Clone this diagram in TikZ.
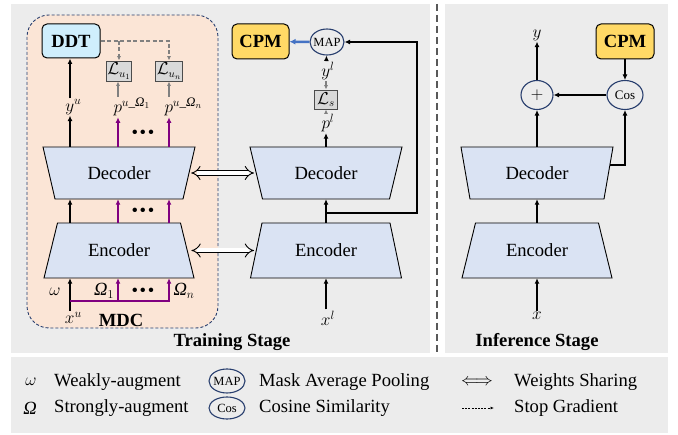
\documentclass[tikz,border=0pt]{standalone}
\usepackage{amsmath}
\usepackage{fontspec}
\setmainfont{Liberation Serif}
\usetikzlibrary{arrows.meta,shapes.geometric,calc}
\definecolor{bg}{RGB}{236,236,236}
\definecolor{peach}{RGB}{251,229,214}
\definecolor{navy}{RGB}{40,62,110}
\definecolor{trapfill}{RGB}{218,227,243}
\definecolor{ddtfill}{RGB}{207,238,252}
\definecolor{cpmfill}{RGB}{255,217,102}
\definecolor{lboxfill}{RGB}{217,217,217}
\definecolor{mypurple}{RGB}{128,0,128}
\definecolor{mygray}{RGB}{128,128,128}
\definecolor{myblue}{RGB}{68,114,196}
\definecolor{sepgray}{RGB}{89,89,89}
\newcommand\myfs{\fontsize{18.6}{21}\selectfont}
\newcommand\supr[2]{#1^{\rlap{$\scriptstyle #2$}}}
\newcommand\threedots{\textbullet\kern1.6pt\textbullet\kern1.6pt\textbullet}
\newcommand\mytrap[7]{%
  \draw[trapbox] ({#2-(#4)/2},{#3-(#6)/2}) -- ({#2+(#4)/2},{#3-(#6)/2}) -- ({#2+(#5)/2},{#3+(#6)/2}) -- ({#2-(#5)/2},{#3+(#6)/2}) -- cycle;
  \node[lbl, inner sep=0pt, minimum width={((#4)+(#5))/2}, minimum height=#6] (#1) at (#2,#3) {#7};
}
\tikzset{
  lbl/.style={inner sep=1pt, font=\myfs},
  legtxt/.style={lbl, anchor=west},
  trapbox/.style={draw=black, fill=trapfill, line width=0.9pt, line join=miter},
  arr/.style={draw=black, line width=1.4pt, -{Latex[length=5.5pt,width=5pt]}},
  parr/.style={arr, draw=mypurple, line width=1.7pt},
  garr/.style={draw=mygray, line width=1.3pt, -{Latex[length=4.5pt,width=4pt]}},
  gdash/.style={garr, dash pattern=on 4pt off 2.5pt},
  barr/.style={draw=myblue, line width=2.5pt, -{Latex[length=6pt,width=6pt]}},
  wsh/.style={draw=black, double=white, double distance=4pt, line width=0.9pt, {Implies}-{Implies}},
  circ/.style={ellipse, draw=navy, line width=1.1pt, fill=bg, inner xsep=-2pt, inner ysep=0pt, font=\fontsize{12.5}{14}\selectfont},
  cpmbox/.style={rectangle, rounded corners=5pt, draw=black, line width=1pt, fill=cpmfill, minimum width=57pt, minimum height=35pt, font=\myfs\bfseries},
  ddtbox/.style={cpmbox, fill=ddtfill, minimum width=58pt, minimum height=34pt},
  lbox/.style={rectangle, draw=black!70, line width=0.9pt, fill=lboxfill, minimum width=25pt, minimum height=20pt, inner sep=1pt, font=\fontsize{16}{18}\selectfont},
  dots/.style={inner sep=0pt, font=\myfs},
  mdc/.style={draw=navy, dash pattern=on 3pt off 2pt, line width=0.9pt, fill=peach, rounded corners=22pt},
  title/.style={lbl, font=\myfs\bfseries}
}
\begin{document}
\begin{tikzpicture}[x=1pt,y=-1pt]
\useasboundingbox (0,0) rectangle (678,435);
\fill[white] (0,0) rectangle (678,435);
\fill[bg] (11,4) rectangle (430,353);
\fill[bg] (445,4) rectangle (668,353);
\fill[bg] (11,357) rectangle (668,433);
\draw[sepgray, line width=2.6pt, dash pattern=on 7pt off 4pt] (437,4) -- (437,353);
\draw[mdc] (27,15) rectangle (218,328);

% ---------- left (MDC) ----------
\mytrap{encL}{119}{250.5}{123}{150}{55}{Encoder}
\mytrap{decL}{119}{173}{152}{128}{52}{Decoder}
\node[lbl] (xu) at (70,318) {$\supr{x}{u}$};
\draw[arr] (xu) -- (xu |- encL.south);
\node[lbl] (om) at (55,292) {$\omega$};
\coordinate (pj) at (70,301);
\coordinate (a1) at ($(encL.south)+(-1,0)$);
\coordinate (an) at ($(encL.south)+(50,0)$);
\draw[parr] (pj) -| (an);
\draw[parr] (a1 |- pj) -- (a1);
\node[lbl] (O1) at (104,291) {\textit{Ω}$_1$};
\node[dots] (d0) at (143,292) {\threedots};
\node[lbl] (On) at (184,291) {\textit{Ω}$_n$};
\node[title] (mdclbl) at (121,320) {MDC};

\draw[arr] ($(encL.north)+(-49,0)$) -- ($(decL.south)+(-49,0)$);
\draw[parr] ($(encL.north)+(-1,0)$) -- ($(decL.south)+(-1,0)$);
\draw[parr] ($(encL.north)+(50,0)$) -- ($(decL.south)+(50,0)$);
\node[dots] (d1) at (143,212) {\threedots};

\node[lbl] (yu) at (70,107) {$\supr{y}{u}$};
\node[lbl] (pu1) at (118,107) {$\supr{p}{u\_\text{\textit{Ω}}_1}$};
\node[lbl] (pun) at (169,107) {$\supr{p}{u\_\text{\textit{Ω}}_n}$};
\draw[arr] (decL.north -| yu) -- (yu);
\draw[parr] (decL.north -| pu1) -- (pu1);
\draw[parr] (decL.north -| pun) -- (pun);
\node[dots] (d2) at (143,134) {\threedots};
\node[ddtbox] (ddt) at (71,41) {DDT};
\draw[arr] (yu) -- (yu |- ddt.south);
\node[lbox] (lu1) at (119,71) {$\mathcal{L}_{u_1}$};
\node[lbox] (lun) at (169,71) {$\mathcal{L}_{u_n}$};
\draw[garr] (pu1) -- (pu1 |- lu1.south);
\draw[garr] (pun) -- (pun |- lun.south);
\draw[gdash] (ddt.east) -| (lun.north);
\draw[gdash] (lu1.north |- ddt.east) -- (lu1.north);

% ---------- middle ----------
\mytrap{encM}{326}{250.5}{128}{151}{55}{Encoder}
\mytrap{decM}{326}{173}{152}{127}{52}{Decoder}
\node[lbl] (xl) at (326,318) {$\supr{x}{l}$};
\draw[arr] (xl) -- (xl |- encM.south);
\draw[arr] (encM.north) -- (decM.south);
\coordinate (br) at (326,213);
\coordinate (rc) at (417,213);
\node[circ, minimum width=34pt, minimum height=26pt] (map) at (327,42) {MAP};
\draw[arr] (br) -- (rc) |- (map.east);
\node[lbox, minimum width=23pt, minimum height=19pt] (ls) at (326,99.5) {$\mathcal{L}_s$};
\node[lbl] (pl) at (326,123) {$\supr{p}{l}$};
\node[lbl] (yl) at (326,71) {$\supr{y}{l}$};
\draw[arr] (decM.north) -- (pl);
\draw[garr] (pl) -- (ls);
\draw[garr] (yl) -- (ls);
\draw[arr] (yl) -- (map);
\node[cpmbox] (cpmM) at (260.5,41.5) {CPM};
\draw[barr] (map) -- (cpmM);

% weights sharing
\draw[wsh, shorten <=2pt, shorten >=2pt] (decL.east) -- (decM.west);
\draw[wsh, shorten <=4pt, shorten >=2pt] (encL.east) -- (encM.west);

\node[title] (train) at (232,342) {Training Stage};

% ---------- right (inference) ----------
\mytrap{encR}{537}{250.5}{123}{150}{55}{Encoder}
\mytrap{decR}{537}{173}{152}{134}{52}{Decoder}
\node[lbl] (xr) at (537,316) {$x$};
\draw[arr] (xr) -- (xr |- encR.south);
\draw[arr] (encR.north) -- (decR.south);
\node[circ, minimum width=32pt, minimum height=29pt, font=\myfs] (plus) at (537,95) {$+$};
\node[lbl] (yr) at (537,35) {$y$};
\draw[arr] (decR.north) -- (plus);
\draw[arr] (plus) -- (yr);
\node[circ, minimum width=36pt, minimum height=29pt, font=\fontsize{13}{15}\selectfont] (cos) at (625,95) {Cos};
\node[cpmbox, minimum width=58pt] (cpmR) at (625,41.5) {CPM};
\draw[arr] (cpmR) -- (cos);
\draw[arr] (cos) -- (plus);
\coordinate (dr) at (610,165);
\draw[arr] (dr) -| (cos.south);
\node[title] (infer) at (537,342) {Inference Stage};

% ---------- legend ----------
\node[lbl] (lgw) at (31,382) {$\omega$};
\node[legtxt] (lgwt) at (53,382) {Weakly-augment};
\node[lbl] (lgo) at (30,408) {\textit{Ω}};
\node[legtxt] (lgot) at (53,408) {Strongly-augment};
\node[circ, minimum width=36pt, minimum height=24pt] (lgmap) at (227,381) {MAP};
\node[legtxt] (lgmapt) at (258,382) {Mask Average Pooling};
\node[circ, minimum width=36pt, minimum height=22pt] (lgcos) at (227,408) {Cos};
\node[legtxt] (lgcost) at (258,408) {Cosine Similarity};
\node[lbl] (lgws) at (477,382) {$\Longleftrightarrow$};
\node[legtxt] (lgwst) at (513,382) {Weights Sharing};
\coordinate (sg1) at (462,408);
\coordinate (sg2) at (494,408);
\draw[line width=0.7pt, dash pattern=on 2pt off 1.2pt, -{Latex[length=3.5pt,width=3pt]}] (sg1) -- (sg2);
\node[legtxt] (lgsgt) at (513,408) {Stop Gradient};
\end{tikzpicture}
\end{document}
